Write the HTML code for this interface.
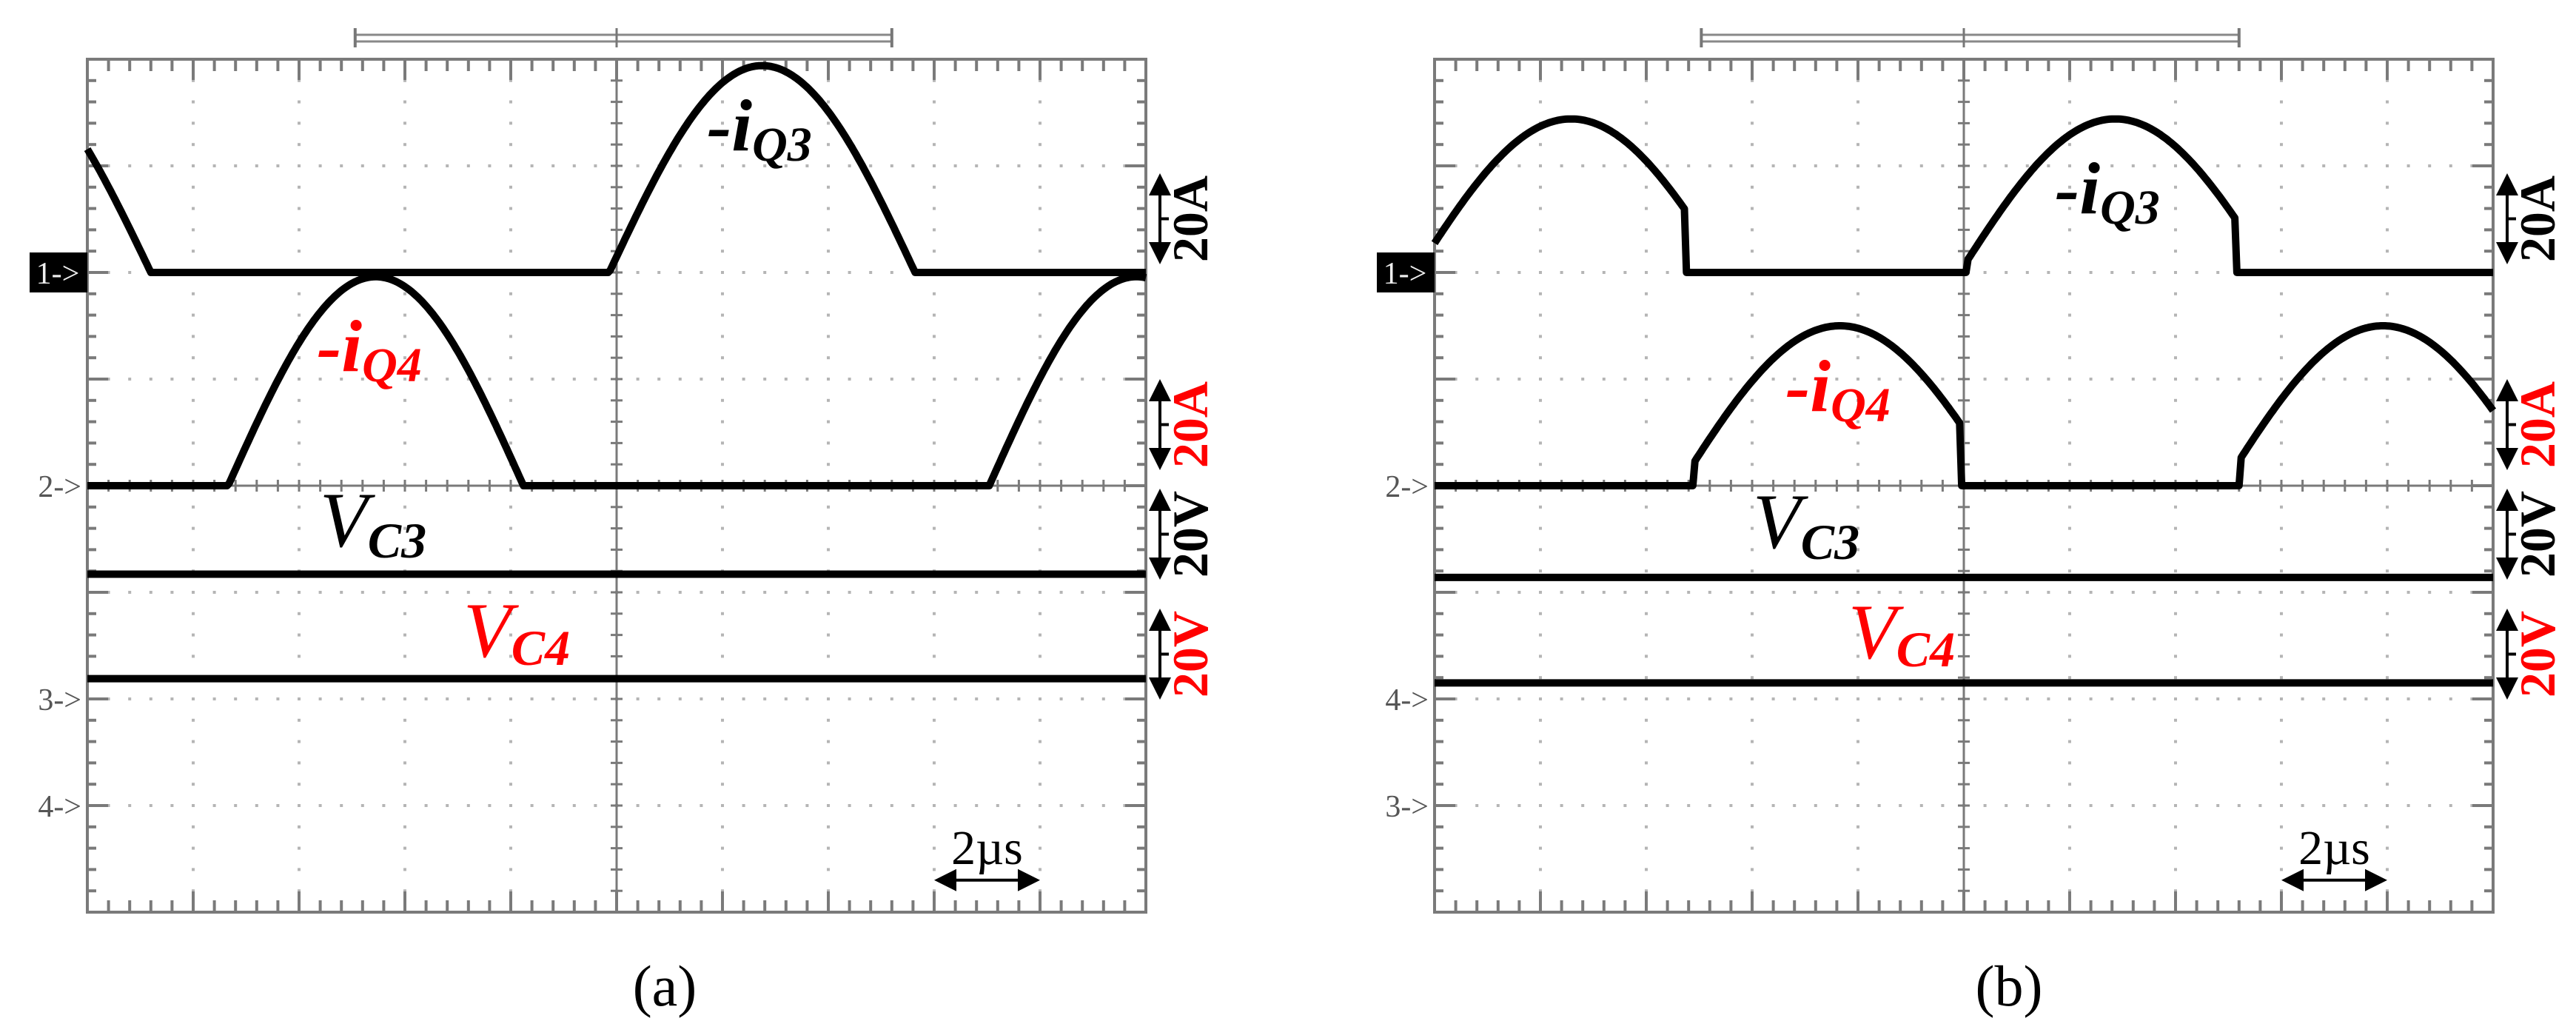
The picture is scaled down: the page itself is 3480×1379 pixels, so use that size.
<!DOCTYPE html>
<html><head><meta charset="utf-8">
<style>
html,body{margin:0;padding:0;background:#fff;}
svg{display:block;}
text{font-family:"Liberation Serif",serif;}
</style></head>
<body>
<svg id="chart" width="3480" height="1379" viewBox="0 0 3480 1379" xmlns="http://www.w3.org/2000/svg">
<rect width="3480" height="1379" fill="#fff"/>
<g id="pa"></g>
<g id="pb"></g>
</svg>
<script>
// ---- data (x in divisions 0..10, amplitude in divisions) ----
const aQ3Start = [-2.35, 4.93];
const aQ3End   = [0.60, 7.82];
const aQ3Amp   = [1.94, 1.94];
const aQ3ClipL = [-3, 4.93];
const aQ3ClipR = [0.60, 7.82];

const aQ4Start = [1.33, 8.52];
const aQ4End   = [4.12, 11.3];
const aQ4Amp   = [1.96, 1.96];
const aQ4ClipL = [1.33, 8.52];
const aQ4ClipR = [4.12, 11.3];

const bQ3Start = [-0.18, 4.96];
const bQ3End   = [2.76, 7.90];
const bQ3Amp   = [1.44, 1.44];
const bQ3ClipL = [0, 5.03];
const bQ3ClipR = [2.38, 7.56];

const bQ4Start = [2.31, 7.45];
const bQ4End   = [5.35, 10.47];
const bQ4Amp   = [1.50, 1.50];
const bQ4ClipL = [2.46, 7.60];
const bQ4ClipR = [4.97, 10.0];

const aVC3Level = [4.83];
const aVC4Level = [5.81];
const bVC3Level = [4.86];
const bVC4Level = [5.85];

const chLevels = [2, 4];
const aMarkerLabels = ["1->", "2->", "3->", "4->"];
const aMarkerLevels = [2, 4, 6, 7];
const bMarkerLabels = ["1->", "2->", "4->", "3->"];
const bMarkerLevels = [2, 4, 6, 7];

// ---- geometry ----
const NS = "http://www.w3.org/2000/svg";
const TOP = 80, DIVY = 144, DIVX = 143;
function el(tag, attrs, parent){ const e=document.createElementNS(NS,tag); for(const k in attrs) e.setAttribute(k,attrs[k]); parent.appendChild(e); return e; }

function drawPanel(g, left, d){
  const X = v => left + v*DIVX;
  const Y = v => TOP + v*DIVY;
  const R = X(10), B = Y(8);
  const br = el('g',{},g);
  
  
  const bx1 = X(d.br[0]), bx2 = X(d.br[1]);
  el('line',{x1:bx1,y1:47,x2:bx2,y2:47,stroke:'#888','stroke-width':3},br);
  el('line',{x1:bx1,y1:56,x2:bx2,y2:56,stroke:'#888','stroke-width':3},br);
  el('line',{x1:bx1,y1:38,x2:bx1,y2:64,stroke:'#777','stroke-width':4},br);
  el('line',{x1:bx2,y1:38,x2:bx2,y2:64,stroke:'#777','stroke-width':4},br);
  el('line',{x1:X(5),y1:38,x2:X(5),y2:64,stroke:'#777','stroke-width':3},br);
  const grid = el('g',{fill:'#b5b5b5'},g);
  
  
  for(let i=1;i<10;i++){ if(i===5) continue;
    for(let j=1;j<40;j++) el('rect',{x:X(i)-2,y:Y(j/5)-2,width:4,height:4},grid); }
  for(let i=1;i<8;i++){ if(i===4) continue;
    for(let j=1;j<50;j++) el('rect',{x:X(j/5)-2,y:Y(i)-2,width:4,height:4},grid); }
  const ax = el('g',{stroke:'#7a7a7a','stroke-width':3},g);
  
  
  el('line',{x1:X(5),y1:TOP,x2:X(5),y2:B},ax);
  el('line',{x1:left,y1:Y(4),x2:R,y2:Y(4)},ax);
  for(let j=1;j<40;j++) el('line',{x1:X(5)-8,y1:Y(j/5),x2:X(5)+8,y2:Y(j/5)},ax);
  for(let j=1;j<50;j++) el('line',{x1:X(j/5),y1:Y(4)-8,x2:X(j/5),y2:Y(4)+8},ax);
  const bd = el('g',{stroke:'#7a7a7a'},g);
  
  
  el('rect',{x:left,y:TOP,width:R-left,height:B-TOP,fill:'none','stroke-width':4},bd);
  for(let j=1;j<50;j++){ const L = (j%5===0)?28:16;
    el('line',{x1:X(j/5),y1:TOP,x2:X(j/5),y2:TOP+L,'stroke-width':4},bd);
    el('line',{x1:X(j/5),y1:B,x2:X(j/5),y2:B-L,'stroke-width':4},bd); }
  for(let j=1;j<40;j++){ const L = (j%5===0)?28:12;
    el('line',{x1:left,y1:Y(j/5),x2:left+L,y2:Y(j/5),'stroke-width':4},bd);
    el('line',{x1:R,y1:Y(j/5),x2:R-L,y2:Y(j/5),'stroke-width':4},bd); }
  for(let k=0;k<d.mLabels.length;k++){
    const y = Y(d.mLevels[k]);
    if(k===0){
      const box = el('rect',{x:left-78,y:y-27,width:78,height:54,fill:'#000'},g);
      
      
      const t = el('text',{x:left-40,y:y+15,'text-anchor':'middle','font-size':42,fill:'#eee','font-family':'Liberation Sans, sans-serif'},g);
      t.textContent = d.mLabels[k];
      
      
    } else {
      const t = el('text',{x:left-8,y:y+15,'text-anchor':'end','font-size':42,fill:'#555','font-family':'Liberation Sans, sans-serif'},g);
      t.textContent = d.mLabels[k];
      
      
    }
  }
  function hump(st,en,am,cl,cr,base,name){
    let pts=[];
    for(let x=0;x<=10.0001;x+=0.02){
      let v=0;
      for(let i=0;i<st.length;i++){
        if(x>=cl[i] && x<=cr[i] && x>=st[i] && x<=en[i]) v = am[i]*Math.sin(Math.PI*(x-st[i])/(en[i]-st[i]));
      }
      pts.push(X(x).toFixed(1)+','+Y(base-v).toFixed(1));
    }
    const p = el('polyline',{points:pts.join(' '),fill:'none',stroke:'#000','stroke-width':10,'stroke-linejoin':'round'},g);
    
    
  }
  hump(d.q3[0],d.q3[1],d.q3[2],d.q3[3],d.q3[4],chLevels[0],'trace-iq3');
  hump(d.q4[0],d.q4[1],d.q4[2],d.q4[3],d.q4[4],chLevels[1],'trace-iq4');
  const v3 = el('line',{x1:left,y1:Y(d.vc3[0]),x2:R,y2:Y(d.vc3[0]),stroke:'#000','stroke-width':10},g);
  
  
  const v4 = el('line',{x1:left,y1:Y(d.vc4[0]),x2:R,y2:Y(d.vc4[0]),stroke:'#000','stroke-width':10},g);
  
  
  const scales = [[234,357,'20A','#000'],[512,635,'20A','#f00'],[660,783,'20V','#000'],[822,945,'20V','#f00']];
  scales.forEach(s=>{
    const sg = el('g',{},g);
    
    
    const ax2 = R+19;
    el('line',{x1:ax2,y1:s[0]+20,x2:ax2,y2:s[1]-20,stroke:'#000','stroke-width':4},sg);
    el('polygon',{points:`${ax2},${s[0]} ${ax2-15},${s[0]+30} ${ax2+15},${s[0]+30}`,fill:'#000'},sg);
    el('polygon',{points:`${ax2},${s[1]} ${ax2-15},${s[1]-30} ${ax2+15},${s[1]-30}`,fill:'#000'},sg);
    el('line',{x1:ax2,y1:(s[0]+s[1])/2,x2:ax2+12,y2:(s[0]+s[1])/2,stroke:'#000','stroke-width':4},sg);
    const cx = R+60, cy=(s[0]+s[1])/2;
    const t = el('text',{x:cx,y:cy,transform:`rotate(-90 ${cx} ${cy})`,'text-anchor':'middle','dominant-baseline':'central','font-size':68,'font-weight':'bold',fill:s[3],'font-family':'Liberation Serif, serif'},sg);
    t.textContent = s[2];
  });
  const tg = el('g',{},g);
  
  
  const t0 = X(8), t1 = X(9), ty = Y(7.7);
  el('line',{x1:t0+20,y1:ty,x2:t1-20,y2:ty,stroke:'#000','stroke-width':4},tg);
  el('polygon',{points:`${t0},${ty} ${t0+30},${ty-15} ${t0+30},${ty+15}`,fill:'#000'},tg);
  el('polygon',{points:`${t1},${ty} ${t1-30},${ty-15} ${t1-30},${ty+15}`,fill:'#000'},tg);
  const tt = el('text',{x:(t0+t1)/2,y:ty-22,'text-anchor':'middle','font-size':66,fill:'#000','font-family':'Liberation Serif, serif'},tg);
  tt.textContent = '2µs';
}

function label(parent, x, y, main, sub, color, mainBold, size, subSize, dy, name){
  const t = el('text',{x:x,y:y,fill:color,'font-style':'italic','font-size':size,'font-family':'Liberation Serif, serif'},parent);
  
  
  const a = el('tspan',{'font-weight':mainBold?'bold':'normal'},t); a.textContent = main;
  const b = el('tspan',{dy:dy,'font-size':subSize,'font-weight':'bold'},t); b.textContent = sub;
}

drawPanel(document.getElementById('pa'),118,{br:[2.53,7.6],q3:[aQ3Start,aQ3End,aQ3Amp,aQ3ClipL,aQ3ClipR],q4:[aQ4Start,aQ4End,aQ4Amp,aQ4ClipL,aQ4ClipR],vc3:aVC3Level,vc4:aVC4Level,mLabels:aMarkerLabels,mLevels:aMarkerLevels});
drawPanel(document.getElementById('pb'),1938,{br:[2.52,7.6],q3:[bQ3Start,bQ3End,bQ3Amp,bQ3ClipL,bQ3ClipR],q4:[bQ4Start,bQ4End,bQ4Amp,bQ4ClipL,bQ4ClipR],vc3:bVC3Level,vc4:bVC4Level,mLabels:bMarkerLabels,mLevels:bMarkerLevels});

const svg = document.getElementById('chart');
label(svg, 955, 203, '-i', 'Q3', '#000', true, 100, 66, 14, 'label-iq3-a');
label(svg, 428, 501, '-i', 'Q4', '#f00', true, 100, 66, 14, 'label-iq4-a');
label(svg, 432, 738, 'V', 'C3', '#000', false, 106, 68, 15, 'label-vc3-a');
label(svg, 626, 887, 'V', 'C4', '#f00', false, 106, 68, 11, 'label-vc4-a');
label(svg, 2776, 288, '-i', 'Q3', '#000', true, 100, 66, 14, 'label-iq3-b');
label(svg, 2412, 555, '-i', 'Q4', '#f00', true, 100, 66, 14, 'label-iq4-b');
label(svg, 2368, 740, 'V', 'C3', '#000', false, 106, 68, 15, 'label-vc3-b');
label(svg, 2497, 889, 'V', 'C4', '#f00', false, 106, 68, 11, 'label-vc4-b');

const ca = el('text',{x:898,y:1358,'text-anchor':'middle','font-size':78,fill:'#000','font-family':'Liberation Serif, serif'},svg);
ca.textContent='(a)';


const cb = el('text',{x:2714,y:1358,'text-anchor':'middle','font-size':78,fill:'#000','font-family':'Liberation Serif, serif'},svg);
cb.textContent='(b)';


</script>
</body></html>
